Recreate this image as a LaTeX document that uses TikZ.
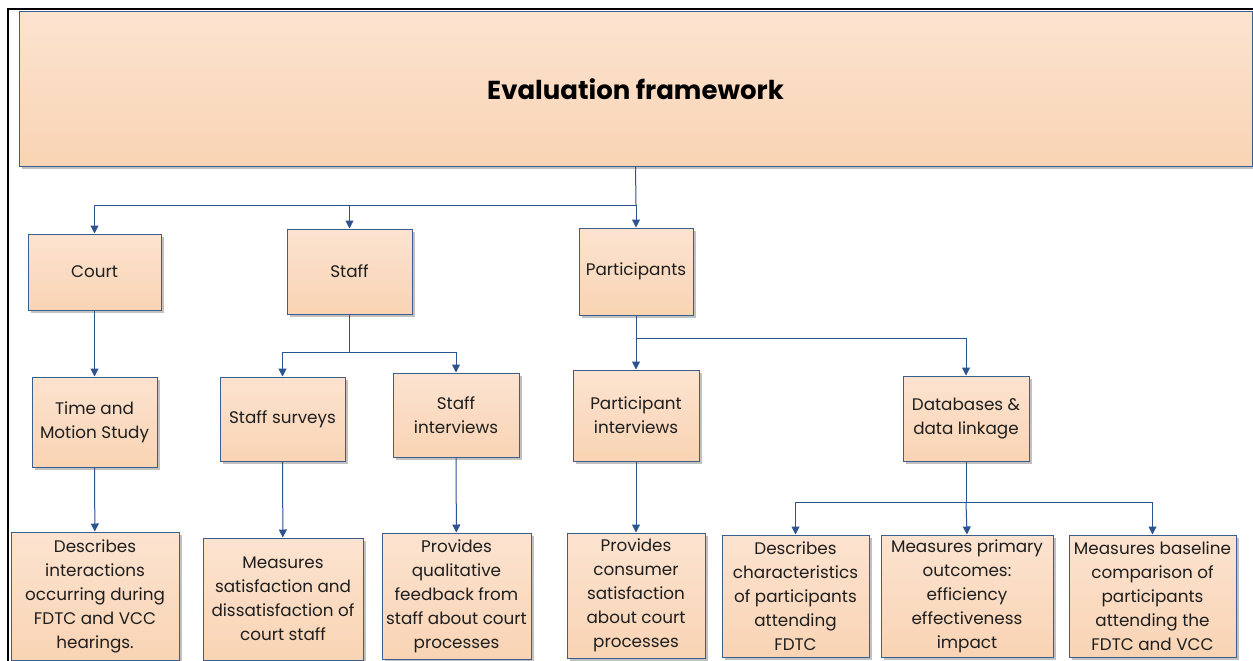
\documentclass[tikz,border=0pt]{standalone}
\usepackage{fontspec}
\setmainfont{Poppins}
\usetikzlibrary{arrows.meta,shadows}
\definecolor{peachtop}{HTML}{FCE3D0}
\definecolor{peachbot}{HTML}{F9D4B4}
\definecolor{boxline}{HTML}{3A5F8E}
\definecolor{connline}{HTML}{2E5490}
\definecolor{txt}{HTML}{1E1E1E}
\tikzset{
  box/.style={rectangle, draw=boxline, line width=1pt, top color=peachtop, bottom color=peachbot,
    align=center, text=txt, inner sep=2pt,
    font=\fontsize{16.8}{24}\selectfont,
    drop shadow={shadow xshift=2.5pt, shadow yshift=-2.5pt, fill=black!30, opacity=0.8}},
  link/.style={draw=connline, line width=1pt},
  arr/.style={link, -{Triangle[length=8pt,width=8pt]}}
}
\begin{document}
\begin{tikzpicture}[x=1pt,y=-1pt]
\useasboundingbox (0,0) rectangle (1253,661);
\fill[white] (0,0) rectangle (1253,661);
\draw[line width=2.6pt, black] (8,661) -- (8,9) -- (1253,9);

\node[box, minimum width=1233pt, minimum height=154pt, font=\fontsize{26}{32}\selectfont\bfseries, text=black] (title) at (635.5,89) {Evaluation framework};

\node[box, minimum width=133pt, minimum height=76pt] (court) at (94.5,272) {Court};
\node[box, minimum width=125pt, minimum height=85pt] (staff) at (349.5,271.5) {Staff};
\node[box, minimum width=114pt, minimum height=87pt] (part) at (636,271.5) {Participants};

\node[box, minimum width=125pt, minimum height=90pt] (tm) at (94.5,422) {Time and\\Motion Study};
\node[box, minimum width=125pt, minimum height=84pt] (ss) at (282.5,419) {Staff surveys};
\node[box, minimum width=126pt, minimum height=84pt] (si) at (456,415) {Staff\\interviews};
\node[box, minimum width=126pt, minimum height=91pt] (pi) at (636,415.5) {Participant\\interviews};
\node[box, minimum width=126pt, minimum height=85pt] (db) at (966,418.5) {Databases \&\\data linkage};

\node[box, minimum width=168pt, minimum height=128pt] (d1) at (95,596) {Describes\\interactions\\occurring during\\FDTC and VCC\\hearings.};
\node[box, minimum width=160pt, minimum height=122pt] (d2) at (283,599) {Measures\\satisfaction and\\dissatisfaction of\\court staff};
\node[box, minimum width=149pt, minimum height=126pt] (d3) at (456.5,596) {Provides\\qualitative\\feedback from\\staff about court\\processes};
\node[box, minimum width=138pt, minimum height=125pt] (d4) at (636,595.5) {Provides\\consumer\\satisfaction\\about court\\processes};
\node[box, minimum width=147pt, minimum height=122pt] (d5) at (795.5,596) {Describes\\characteristics\\of participants\\attending\\FDTC};
\node[box, minimum width=172pt, minimum height=122pt] (d6) at (967,596) {Measures primary\\outcomes:\\efficiency\\effectiveness\\impact};
\node[box, minimum width=167pt, minimum height=122pt] (d7) at (1152.5,596) {Measures baseline\\comparison of\\participants\\attending the\\FDTC and VCC};

\coordinate (j1) at (636,205);
\coordinate (j2) at (349.5,352);
\coordinate (j3) at (636,338);
\coordinate (j4) at (966,502);

\draw[link] (title.south) -- (j1);
\draw[arr] (j1) -| (court.north);
\draw[arr] (j1) -| (staff.north);
\draw[arr] (j1) -- (part.north);

\draw[arr] (court) -- (tm);
\draw[link] (staff) -- (j2);
\draw[arr] (j2) -| (ss.north);
\draw[arr] (j2) -| (si.north);

\draw[link] (part) -- (j3);
\draw[arr] (j3) -- (pi.north);
\draw[arr] (j3) -| (db.north);

\draw[arr] (tm) -- (d1);
\draw[arr] (ss) -- (d2);
\draw[arr] (si) -- (d3);
\draw[arr] (pi) -- (d4);

\draw[link] (db) -- (j4);
\draw[arr] (j4) -| (d5.north);
\draw[arr] (j4) -- (d6.north);
\draw[arr] (j4) -| (d7.north);
\end{tikzpicture}
\end{document}
